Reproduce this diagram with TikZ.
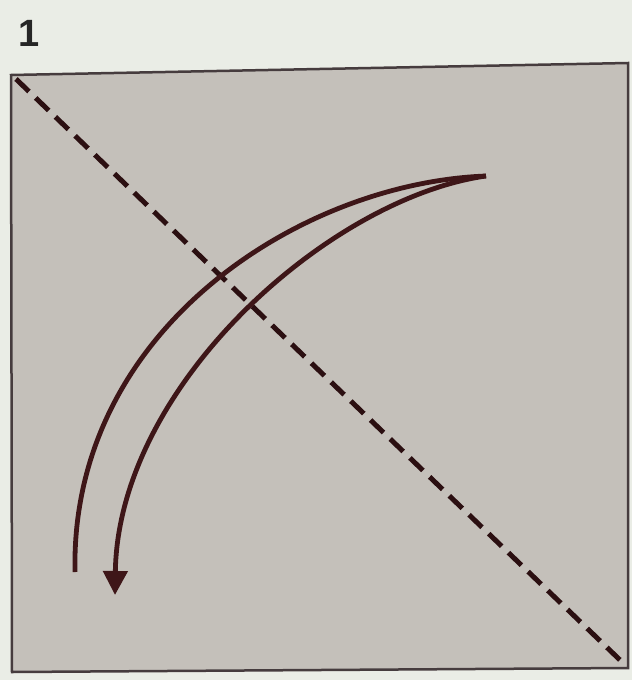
\documentclass[tikz,border=0pt]{standalone}
\usepackage{fontspec}
\setsansfont{Liberation Sans}
\usetikzlibrary{arrows.meta}
\definecolor{paper}{RGB}{234,237,230}
\definecolor{sheet}{RGB}{196,192,186}
\definecolor{edge}{RGB}{70,60,62}
\definecolor{ink}{RGB}{62,22,24}
\tikzset{
  sheetbox/.style={fill=sheet, draw=edge, line width=2.5pt},
  foldline/.style={draw=ink!70!black, line width=5pt, dash pattern=on 18pt off 9.33pt},
  arc/.style={draw=ink, line width=4.8pt},
  steplabel/.style={font=\sffamily\bfseries\fontsize{38}{38}\selectfont, text=black!85, inner sep=0pt}
}
\begin{document}
\begin{tikzpicture}[x=1pt,y=-1pt]
\fill[paper] (0,0) rectangle (632,680);
\useasboundingbox (0,0) rectangle (632,680);
\draw[sheetbox] (11,75) -- (628,63) -- (628,668) -- (12,672) -- cycle;
\node[steplabel] (num) at (29,33) {1};
\coordinate (tl) at (16,79);
\coordinate (br) at (620,660);
\draw[foldline] (tl) -- (br);
\coordinate (tip) at (486,176);
\coordinate (outerend) at (75,572);
\coordinate (innerend) at (115,595);
\draw[arc, line cap=butt] (tip) .. controls (300,183) and (70,330) .. (outerend);
\draw[arc, -{Triangle[length=24pt,width=24pt]}] (tip) .. controls (330,198) and (118,385) .. (innerend);
\end{tikzpicture}
\end{document}
